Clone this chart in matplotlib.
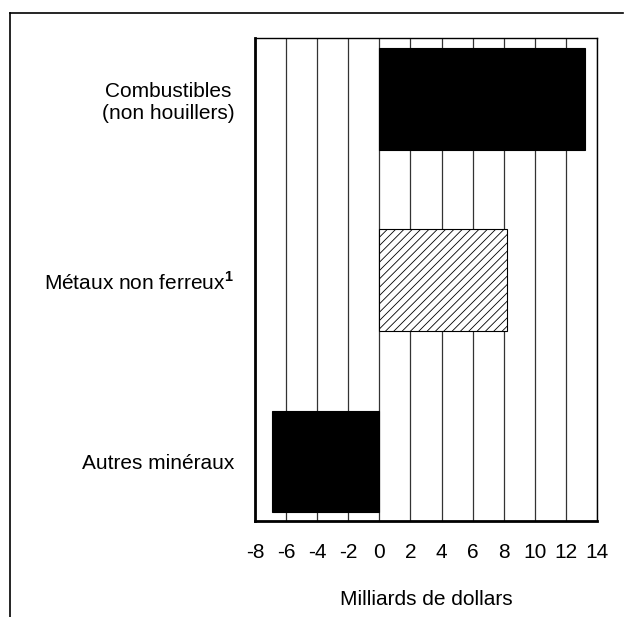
import matplotlib
matplotlib.use('Agg')
import matplotlib.pyplot as plt
from matplotlib.lines import Line2D

plt.rcParams['font.family'] = ['Liberation Sans', 'DejaVu Sans']
plt.rcParams['mathtext.fontset'] = 'custom'
plt.rcParams['mathtext.rm'] = 'Liberation Sans'
plt.rcParams['mathtext.bf'] = 'Liberation Sans:bold'
plt.rcParams['hatch.linewidth'] = 0.6

categories = ['Combustibles\n(non houillers)', r'Métaux non ferreux$^{\mathbf{1}}$', 'Autres minéraux']
values = [13.2, 8.2, -6.9]
colors = ['black', 'white', 'black']
hatches = ['', '////', '']
xticks = list(range(-8, 15, 2))

fig = plt.figure(figsize=(6.24, 6.17), dpi=100)
ax = fig.add_axes([255/624, 1-521/617, 342/624, 483/617])

ypos = list(range(len(categories)))
for y, v, c, h in zip(ypos, values, colors, hatches):
    ax.barh(y, v, height=0.56, color=c, edgecolor='black', hatch=h, linewidth=0.8, zorder=3)

ax.set_xlim(-8, 14)
ax.set_ylim(2.33, -0.337)
ax.set_xticks(xticks)
ax.set_xticklabels([str(t) for t in xticks], fontsize=15)
ax.set_yticks(ypos)
ax.set_yticklabels(categories, fontsize=15, multialignment='center')
ax.tick_params(length=0)
ax.tick_params(axis='x', pad=16)
ax.tick_params(axis='y', pad=15)
ax.grid(axis='x', color='#333333', linewidth=0.9, zorder=1)
ax.set_axisbelow(True)
for s in ax.spines.values():
    s.set_linewidth(1.0)
ax.spines['left'].set_linewidth(2.0)
ax.spines['bottom'].set_linewidth(2.0)
ax.set_xlabel('Milliards de dollars', fontsize=15, labelpad=20)

# outer frame (top and left only)
fig.add_artist(Line2D([10/624, 623/624], [1-13/617, 1-13/617], color='black', linewidth=1.2, transform=fig.transFigure))
fig.add_artist(Line2D([10/624, 10/624], [1-13/617, 0], color='black', linewidth=1.2, transform=fig.transFigure))

fig.savefig('out.png', dpi=100)
